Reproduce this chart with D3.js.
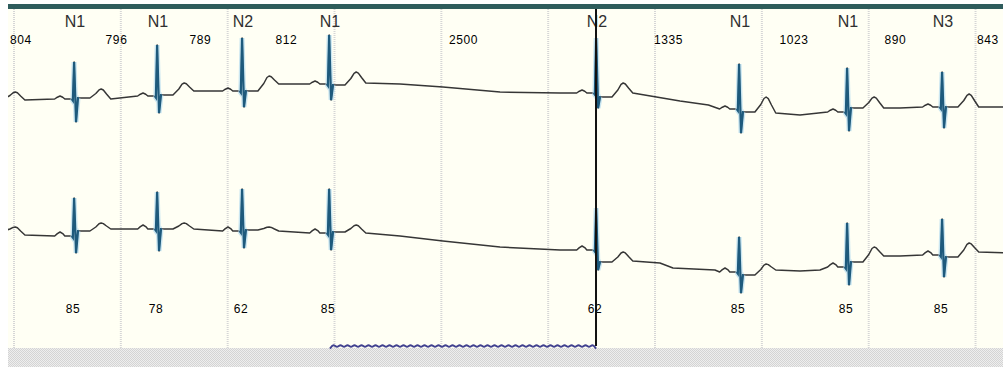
<!DOCTYPE html>
<html>
<head>
<meta charset="utf-8">
<script src="https://cdn.jsdelivr.net/npm/d3@7"></script>
<style>
  html, body { margin: 0; padding: 0; background: #fff; }
  text { font-family: "Liberation Sans", Arial, sans-serif; }
</style>
</head>
<body>
<div id="strip"></div>
<script>
// beat times in ms (first and last beat lie outside the visible window)
const beatTimes = [-233, 571, 1348, 2143, 2958, 5457, 6795, 7806, 8695, 9538];
const beatLabels = ['N1', 'N1', 'N2', 'N1', 'N2', 'N1', 'N1', 'N3'];
const rrLabels = [804, 796, 789, 812, 2500, 1335, 1023, 890, 843];
const beatValues = [85, 78, 62, 85, 62, 85, 85, 85];
const gridTimes = [0, 1000, 2000, 3000, 4000, 5000, 6000, 7000, 8000, 9000];

// per beat: [baseline, R, S, ST, T peak, level after T] in mV
const topWaves = [
  [-0.025, 0.875, -0.575, -0.05, 0.125, -0.075],
  [-0.05, 0.875, -0.625, -0.025, 0.2, -0.05],
  [0.025, 1.3, -0.4, 0.05, 0.35, 0.15],
  [0.15, 1.475, -0.25, 0.15, 0.525, 0.325],
  [0.325, 1.55, -0.075, 0.3, 0.625, 0.35],
  [0.1, 1.475, -0.275, 0, 0.35, 0.1],
  [-0.3, 0.825, -0.9, -0.375, 0, -0.4],
  [-0.375, 0.725, -0.85, -0.275, 0, -0.275],
  [-0.25, 0.625, -0.775, -0.25, 0.075, -0.25],
  [-0.25, 0.625, -0.775, -0.25, 0.075, -0.25]
];
const bottomWaves = [
  [0.05, 0.925, -0.45, 0.1, 0.2, 0],
  [-0.025, 0.925, -0.45, 0.1, 0.3, 0.15],
  [0.15, 1.075, -0.4, 0.15, 0.3, 0.15],
  [0.1, 1.15, -0.325, 0.125, 0.2, 0.1],
  [0.05, 1.15, -0.375, 0.075, 0.25, 0.05],
  [-0.375, 0.675, -0.875, -0.675, -0.425, -0.65],
  [-0.925, -0.05, -1.45, -1.0, -0.725, -0.875],
  [-0.8, 0.3, -1.25, -0.675, -0.3, -0.525],
  [-0.5, 0.4, -1.05, -0.55, -0.2, -0.425],
  [-0.45, 0.4, -1.05, -0.55, -0.2, -0.425]
];

// baseline drift between beats: [ms, mV]
const topDrift = [[3613, 0.325], [4015, 0.25], [4549, 0.125], [5111, 0.1], [6234, -0.1], [6500, -0.2], [7357, -0.45], [8293, -0.275]];
const bottomDrift = [[3613, -0.025], [4015, -0.15], [4549, -0.3], [5111, -0.375], [6046, -0.7], [6168, -0.825], [6561, -0.875], [7357, -0.9], [7544, -0.875], [8293, -0.525]];

const pAmp = { top: 0.075, bottom: 0.1 };

const width = 1003, height = 367;
const left = 8, plotTop = 9, plotBottom = 348;

const svg = d3.select('#strip')
  .append('svg')
  .attr('width', width)
  .attr('height', height);

const x = d3.scaleLinear().domain([-56, 9257]).range([left, width]);
const yTop = d3.scaleLinear().domain([-1, 1]).range([137, 57]);
const yBottom = d3.scaleLinear().domain([-1, 1]).range([275, 195]);

const defs = svg.append('defs');
const hatch = defs.append('pattern')
  .attr('id', 'hatch')
  .attr('width', 2).attr('height', 2)
  .attr('patternUnits', 'userSpaceOnUse');
hatch.append('rect').attr('width', 2).attr('height', 2).attr('fill', '#eeeeee');
hatch.append('rect').attr('width', 1).attr('height', 1).attr('fill', '#d4d4d4');
hatch.append('rect').attr('x', 1).attr('y', 1).attr('width', 1).attr('height', 1).attr('fill', '#d4d4d4');

defs.append('clipPath').attr('id', 'plot-clip')
  .append('rect')
  .attr('x', left).attr('y', plotTop)
  .attr('width', width - left).attr('height', plotBottom - plotTop);

// background
svg.append('rect')
  .attr('x', left).attr('y', 4)
  .attr('width', width - left).attr('height', plotBottom - 4)
  .attr('fill', '#fffff4');

svg.append('rect')
  .attr('x', left).attr('y', plotBottom)
  .attr('width', width - left).attr('height', height - plotBottom)
  .attr('fill', 'url(#hatch)');

// one-second grid
svg.selectAll('.grid')
  .data(gridTimes)
  .enter()
  .append('line')
  .attr('class', 'grid')
  .attr('x1', d => x(d)).attr('x2', d => x(d))
  .attr('y1', plotTop).attr('y2', plotBottom)
  .attr('stroke', '#d6d6d6')
  .attr('stroke-width', 2)
  .attr('stroke-dasharray', '1,1');

svg.append('rect')
  .attr('x', left).attr('y', 4)
  .attr('width', width - left).attr('height', 5)
  .attr('fill', '#2e5c5c');

function beatPoints(t, w, p) {
  const [base, r, s, st, tp, end] = w;
  return [
    [t - 190, base], [t - 165, base + p * 0.6], [t - 140, base + p], [t - 115, base + p * 0.6], [t - 95, base],
    [t - 35, base], [t - 20, base - 0.04], [t - 8, r], [t + 10, s], [t + 28, st],
    [t + 140, st], [t + 195, st + (tp - st) * 0.5], [t + 225, st + (tp - st) * 0.9], [t + 245, tp],
    [t + 265, end + (tp - end) * 0.9], [t + 295, end + (tp - end) * 0.5], [t + 335, end]
  ];
}

function qrsPoints(t, w) {
  const [base, r, s, st] = w;
  return [[t - 30, base], [t - 20, base - 0.04], [t - 8, r], [t + 10, s], [t + 28, st], [t + 36, st]];
}

function leadPoints(waves, drift, p) {
  let pts = [];
  beatTimes.forEach((t, i) => {
    pts = pts.concat(beatPoints(t, waves[i], p));
    const next = beatTimes[i + 1];
    if (next !== undefined) {
      drift.filter(d => d[0] > t + 335 && d[0] < next - 190).forEach(d => pts.push(d));
    }
  });
  return pts;
}

const traces = svg.append('g').attr('clip-path', 'url(#plot-clip)');

const leads = [
  { waves: topWaves, drift: topDrift, y: yTop, p: pAmp.top },
  { waves: bottomWaves, drift: bottomDrift, y: yBottom, p: pAmp.bottom }
];

leads.forEach(lead => {
  const line = d3.line().x(d => x(d[0])).y(d => lead.y(d[1]));

  traces.append('path')
    .attr('fill', 'none')
    .attr('stroke', '#363636')
    .attr('stroke-width', 1.5)
    .attr('stroke-linejoin', 'round')
    .attr('d', line(leadPoints(lead.waves, lead.drift, lead.p)));

  // QRS complexes highlighted in blue
  beatTimes.forEach((t, i) => {
    const q = qrsPoints(t, lead.waves[i]);
    traces.append('path')
      .attr('fill', 'none')
      .attr('stroke', '#b3dcef')
      .attr('stroke-width', 5)
      .attr('stroke-opacity', 0.7)
      .attr('d', line(q));
    traces.append('path')
      .attr('fill', 'none')
      .attr('stroke', '#1e5a7c')
      .attr('stroke-width', 2.2)
      .attr('d', line(q));
  });
});

// beat annotations
const shown = beatTimes.slice(1, 9);

svg.selectAll('.beat-label')
  .data(beatLabels)
  .enter()
  .append('text')
  .attr('class', 'beat-label')
  .attr('x', (d, i) => x(shown[i]))
  .attr('y', 27)
  .attr('text-anchor', 'middle')
  .attr('fill', '#303030')
  .style('font-size', '16px')
  .text(d => d);

svg.selectAll('.rr-label')
  .data(rrLabels)
  .enter()
  .append('text')
  .attr('class', 'rr-label')
  .attr('x', (d, i) => beatTimes[i] < x.domain()[0] ? left + 2 : x((beatTimes[i] + beatTimes[i + 1]) / 2))
  .attr('y', 44)
  .attr('text-anchor', (d, i) => beatTimes[i] < x.domain()[0] ? 'start' : 'middle')
  .attr('fill', '#000')
  .style('font-size', '12px')
  .style('letter-spacing', '0.6px')
  .text(d => d);

svg.selectAll('.value-label')
  .data(beatValues)
  .enter()
  .append('text')
  .attr('class', 'value-label')
  .attr('x', (d, i) => x(shown[i]) - 2)
  .attr('y', 313)
  .attr('text-anchor', 'middle')
  .attr('fill', '#000')
  .style('font-size', '12px')
  .style('letter-spacing', '0.6px')
  .text(d => d);

// pause marker
const pauseStart = x(beatTimes[4]), pauseEnd = x(beatTimes[5]);
const wave = d3.range(pauseStart, pauseEnd, 3.5).map((px, i) => [px, 346 + (i % 2 ? -2.6 : 2.6)]);
svg.append('path')
  .attr('fill', 'none')
  .attr('stroke', '#41418f')
  .attr('stroke-width', 2)
  .attr('d', d3.line().curve(d3.curveBasis)(wave));

// cursor
svg.append('line')
  .attr('x1', x(beatTimes[5]) - 1).attr('x2', x(beatTimes[5]) - 1)
  .attr('y1', plotTop).attr('y2', 346)
  .attr('stroke', '#111')
  .attr('stroke-width', 2);
</script>
</body>
</html>
